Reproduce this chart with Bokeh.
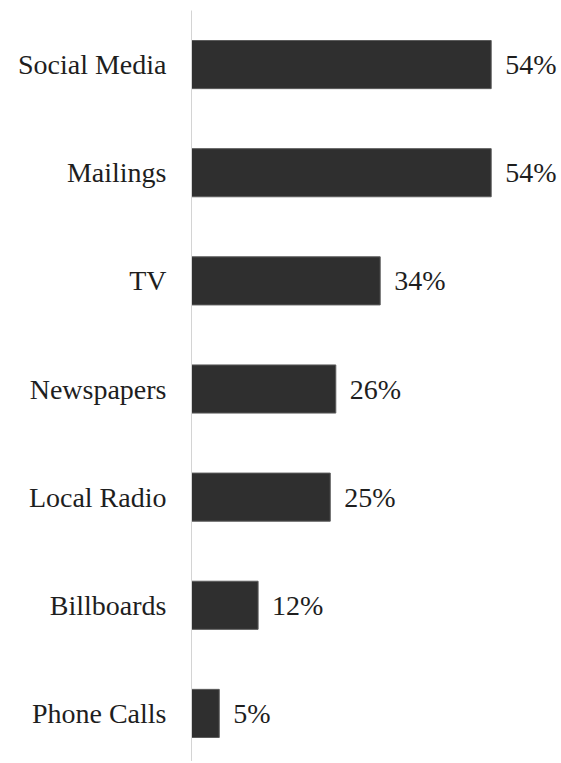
from bokeh.plotting import figure
from bokeh.models import ColumnDataSource, Range1d, FixedTicker
from bokeh.core.properties import value
from bokeh.embed import file_html
from bokeh.resources import INLINE

categories = ["Social Media", "Mailings", "TV", "Newspapers", "Local Radio", "Billboards", "Phone Calls"]
values = [54, 54, 34, 26, 25, 12, 5]
value_labels = ["54%", "54%", "34%", "26%", "25%", "12%", "5%"]

FONT = "Liberation Serif"

n = len(categories)
ypos = [n - 1 - i + 0.5 for i in range(n)]  # top category first

src = ColumnDataSource(dict(cat=categories, y=ypos, val=values, lab=value_labels))

W, H = 559, 761
TOP = 10
UNIT = 108
LEFT = 191
FRAME_H = H - TOP - 1
FRAME_W = W - LEFT
p = figure(
    width=W, height=H,
    y_range=Range1d(n - FRAME_H / UNIT, n),
    x_range=Range1d(0, FRAME_W / 5.55),
    output_backend="svg", toolbar_location=None,
    min_border_left=LEFT, min_border_right=0, min_border_top=TOP, min_border_bottom=0,
)

p.hbar(y="y", right="val", left=0, height=0.445, source=src,
       fill_color="#2f2f2f", line_color="#5c5c5c", line_width=1)

p.text(x="val", y="y", text="lab", source=src, x_offset=14,
       text_baseline="middle", text_align="left",
       text_font=value(FONT), text_font_size="28px", text_color="#1e1e1e")

# hide x axis by styling (keeps its space minimal)
xa = p.xaxis[0]
xa.axis_line_alpha = 0
xa.major_tick_line_alpha = 0
xa.minor_tick_line_alpha = 0
xa.major_tick_out = 0
xa.minor_tick_out = 0
xa.major_label_text_alpha = 0
xa.major_label_text_font_size = "1px"
xa.major_label_standoff = 0

p.grid.grid_line_alpha = 0
p.outline_line_alpha = 0

ax = p.yaxis[0]
ax.ticker = FixedTicker(ticks=ypos)
ax.major_label_overrides = {y: c for y, c in zip(ypos, categories)}
ax.axis_line_color = "#d4d4d4"
ax.axis_line_width = 1
ax.major_tick_line_alpha = 0
ax.minor_tick_line_alpha = 0
ax.major_tick_out = 0
ax.minor_tick_out = 0
ax.major_label_standoff = 25
ax.major_label_text_font = FONT
ax.major_label_text_font_size = "28px"
ax.major_label_text_color = "#1e1e1e"

open("out.html", "w").write(file_html(p, INLINE))
